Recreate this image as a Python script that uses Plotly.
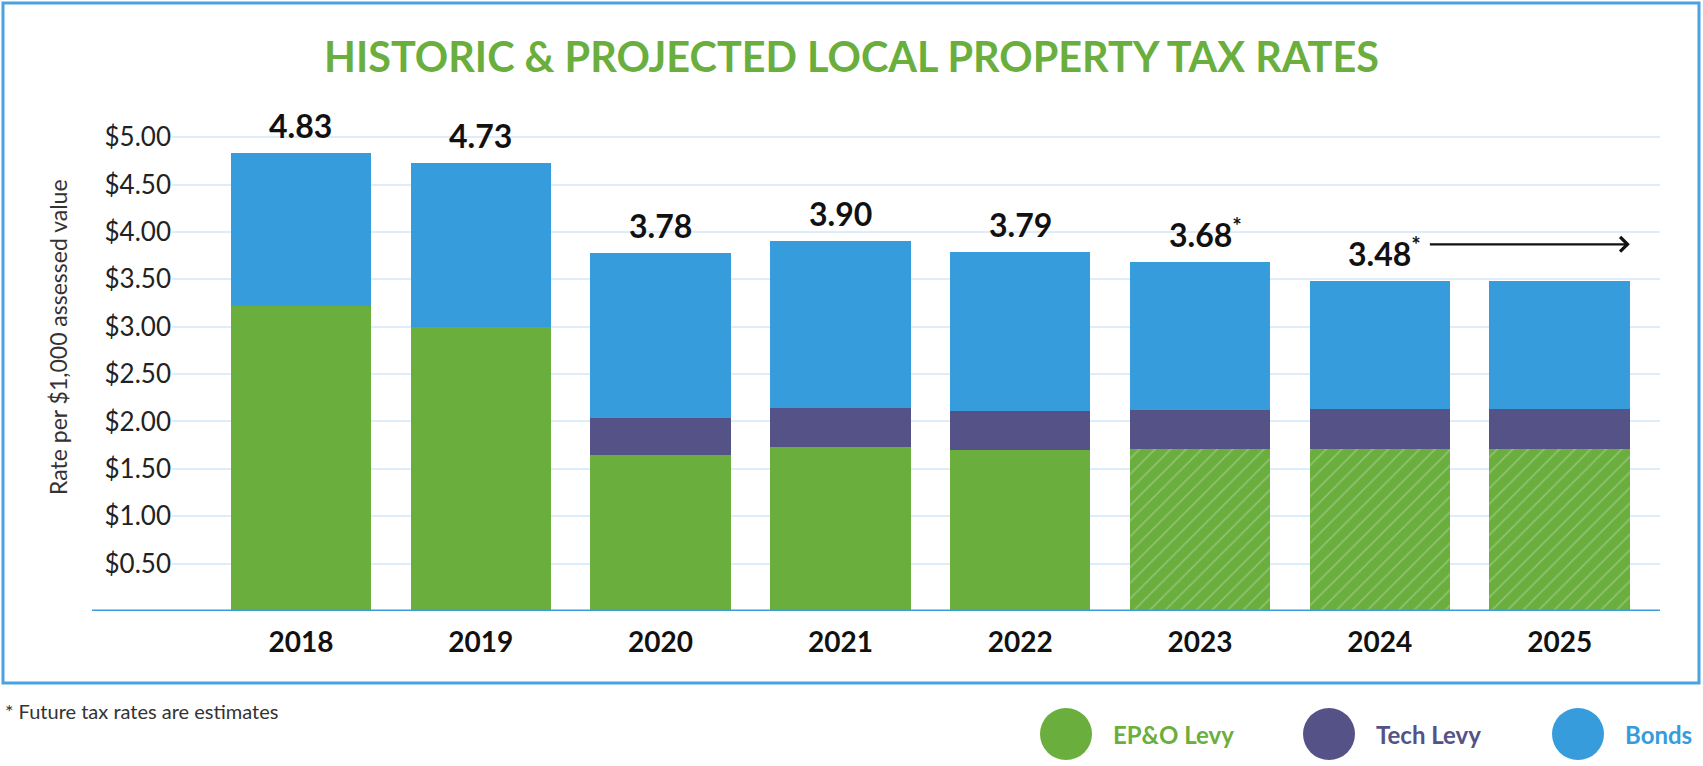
import plotly.graph_objects as go

years = ["2018", "2019", "2020", "2021", "2022", "2023", "2024", "2025"]
epo_levy = [3.22, 3.00, 1.65, 1.73, 1.70, 1.71, 1.71, 1.71]
tech_levy = [0.00, 0.00, 0.39, 0.41, 0.41, 0.41, 0.42, 0.42]
bonds = [1.61, 1.73, 1.74, 1.76, 1.68, 1.56, 1.35, 1.35]
totals = [4.83, 4.73, 3.78, 3.90, 3.79, 3.68, 3.48, 3.48]
projected = [False, False, False, False, False, True, True, True]
show_label = [True, True, True, True, True, True, True, False]

ytick_vals = [0.5, 1.0, 1.5, 2.0, 2.5, 3.0, 3.5, 4.0, 4.5, 5.0]
ytick_text = ["$0.50", "$1.00", "$1.50", "$2.00", "$2.50",
              "$3.00", "$3.50", "$4.00", "$4.50", "$5.00"]

GREEN = "#6aae3e"
PURPLE = "#545286"
BLUE = "#369cdc"
FONT = "Lato"

# plot area in pixels: x 172..1660, y 110..611
W, H = 1703, 766
L, R, T, B = 172, 43, 110, 155
pw, ph = W - L - R, H - T - B


def px(x):
    return (x - L) / pw


def py(y):
    return (H - B - y) / ph


fig = go.Figure()
fig.add_trace(go.Bar(
    x=years, y=epo_levy, name="EP&O Levy",
    marker=dict(color=GREEN, line=dict(width=0),
                pattern=dict(shape=["/" if p else "" for p in projected],
                             bgcolor=GREEN,
                             fgcolor="rgba(255,255,255,0.5)",
                             size=11, solidity=0.16))))
fig.add_trace(go.Bar(x=years, y=tech_levy, name="Tech Levy",
                     marker=dict(color=PURPLE, line=dict(width=0))))
fig.add_trace(go.Bar(x=years, y=bonds, name="Bonds",
                     marker=dict(color=BLUE, line=dict(width=0))))

# total labels above the bars (2025 has none, the arrow carries 2024 forward)
for i, (tot, p, s) in enumerate(zip(totals, projected, show_label)):
    if not s:
        continue
    fig.add_annotation(x=i, y=tot, xref="x", yref="y",
                       text=f"{tot:.2f}" + ("<sup>*</sup>" if p else ""),
                       showarrow=False, xanchor="center", yanchor="bottom", yshift=6,
                       xshift=5 if p else 0,
                       font=dict(family=FONT, size=32, color="#111", weight="bold"))

# arrow from the 2024 label running to the right
fig.add_annotation(x=7.39, y=totals[6] + 0.39, ax=6.27, ay=totals[6] + 0.39,
                   axref="x", ayref="y", xref="x", yref="y", text="",
                   showarrow=True, arrowhead=4, arrowsize=1.3, arrowwidth=2.2,
                   arrowcolor="#111")

# y axis title
fig.add_annotation(xref="paper", yref="paper", x=px(58), y=py(337),
                   xanchor="center", yanchor="middle",
                   text="Rate per $1,000 assessed value", textangle=-90,
                   showarrow=False, font=dict(family=FONT, size=23, color="#333"))

# footnote
fig.add_annotation(xref="paper", yref="paper", x=px(3), y=py(711),
                   xanchor="left", yanchor="middle",
                   text="* Future tax rates are estimates", showarrow=False,
                   font=dict(family=FONT, size=20, color="#333"))

# custom legend with big dots
legend_items = [("EP&O Levy", GREEN, 1066), ("Tech Levy", PURPLE, 1329), ("Bonds", BLUE, 1578)]
for label, col, cx in legend_items:
    fig.add_shape(type="circle", xref="paper", yref="paper",
                  xsizemode="pixel", ysizemode="pixel",
                  xanchor=px(cx), yanchor=py(734),
                  x0=-26, x1=26, y0=-26, y1=26,
                  fillcolor=col, line=dict(width=0))
    fig.add_annotation(xref="paper", yref="paper", x=px(cx + 45), y=py(734),
                       xanchor="left", yanchor="middle", text=label, showarrow=False,
                       font=dict(family=FONT, size=24, color=col, weight="bold"))

# baseline and outer frame
fig.add_shape(type="line", xref="paper", yref="y", x0=px(92), x1=1, y0=0, y1=0,
              line=dict(color="#3a9ddc", width=3))
fig.add_shape(type="rect", xref="paper", yref="paper",
              x0=px(3), x1=px(1699), y0=py(683), y1=py(3),
              line=dict(color="#4aa3e0", width=3))

fig.update_layout(
    width=W, height=H,
    margin=dict(l=L, r=R, t=T, b=B),
    barmode="stack", bargap=0.219,
    showlegend=False,
    plot_bgcolor="white", paper_bgcolor="white",
    title=dict(text="HISTORIC & PROJECTED LOCAL PROPERTY TAX RATES",
               x=0.5, xanchor="center", xref="container",
               y=1 - 57.5 / H, yanchor="middle", yref="container",
               font=dict(family=FONT, size=41.4, color=GREEN, weight="bold")),
    xaxis=dict(type="category", range=[-0.717, 7.558], showgrid=False,
               showline=False, zeroline=False, ticks="", ticklabelstandoff=12,
               tickfont=dict(family=FONT, size=28, color="#111", weight="bold")),
    yaxis=dict(range=[0, ph / 94.76], tickvals=ytick_vals, ticktext=ytick_text,
               showgrid=True, gridcolor="#ddedf9", gridwidth=2,
               zeroline=False, showline=False, ticks="",
               tickfont=dict(family=FONT, size=26, color="#222")),
)

fig.write_html("out.html", config={"displayModeBar": False},
               post_script="document.body.style.margin='0px';")
